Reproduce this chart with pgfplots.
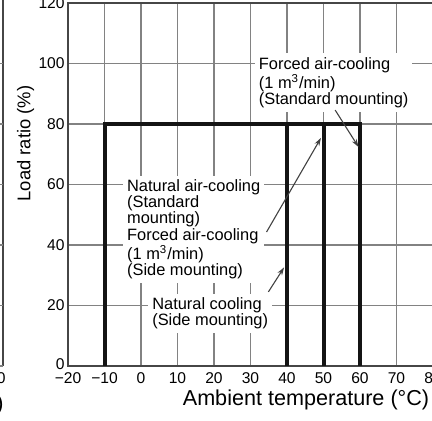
\documentclass[border=0pt]{standalone}
\usepackage{pgfplots}
\pgfplotsset{compat=1.18}
\usepackage{fontspec}
\setmainfont{Liberation Sans}
\usetikzlibrary{arrows.meta}

\definecolor{gridgray}{RGB}{130,130,130}
\definecolor{framegray}{RGB}{70,70,70}
\definecolor{arrowgray}{RGB}{65,65,65}

\tikzset{
  note/.style={anchor=north west, fill=white, inner sep=2pt, align=left,
               font=\fontsize{8.2}{8.1}\selectfont},
  pointer/.style={arrowgray, line width=0.55pt, -{Stealth[length=4pt, width=2.6pt]}},
}

\begin{document}
\begin{tikzpicture}
  \begin{axis}[
    at={(0,0)}, anchor=south west,
    scale only axis,
    width=182.5pt, height=181.5pt,
    xmin=-20, xmax=80,
    ymin=0, ymax=120,
    xtick={-20,-10,...,80},
    xticklabels={−20,−10,0,10,20,30,40,50,60,70,80},
    ytick={0,20,...,120},
    yticklabels={\raisebox{2pt}{0},20,40,60,80,100,\raisebox{-4pt}{120}},
    major tick length=0pt,
    grid=major,
    grid style={gridgray, line width=0.7pt},
    axis line style={framegray, line width=1pt},
    ticklabel style={font=\fontsize{7.8}{9}\selectfont},
    yticklabel style={inner xsep=0pt, xshift=-1.5pt},
    clip=false,
  ]
    % operating limits
    \addplot[black!92, line width=2pt] coordinates {(-10,0) (-10,80) (60,80) (60,0)};
    \addplot[black!92, line width=2pt] coordinates {(40,0) (40,80)};
    \addplot[black!92, line width=2pt] coordinates {(50,0) (50,80)};

    % annotations
    \node[note] at (axis cs:31.1,103.5)
      {Forced air-cooling\\(1 m\textsuperscript{3}/min)\\(Standard mounting)};
    \node[note] at (axis cs:-5.0,63.1)
      {Natural air-cooling\\(Standard\\mounting)\\Forced air-cooling\\(1 m\textsuperscript{3}/min)\\(Side mounting)};
    \node[note] at (axis cs:1.9,24.1)
      {Natural cooling\\(Side mounting)};

    \draw[pointer] (axis cs:53.2,84.6) -- (axis cs:59.6,72.4);
    \draw[pointer] (axis cs:34.4,44.3) -- (axis cs:49.3,75.4);
    \draw[pointer] (axis cs:34.9,24.5) -- (axis cs:39.2,32.6);
  \end{axis}

  % axis titles
  \node[font=\fontsize{10.8}{12}\selectfont] at (119pt,-17pt) {Ambient temperature (°C)};
  \node[rotate=90, font=\fontsize{9.2}{11}\selectfont] at (-21.25pt,111.25pt) {Load ratio (\%)};

  % edge of the neighbouring chart
  \draw[framegray, line width=1pt] (-32.35pt,0pt) -- (-32.35pt,183pt);
  \foreach \yy in {0pt,30.25pt,60.5pt,90.75pt,121pt,151.25pt}
    \draw[gridgray, line width=0.7pt] (-35pt,\yy) -- (-32.35pt,\yy);
  \node[anchor=east, inner sep=0pt, font=\fontsize{7.8}{9}\selectfont] at (-31pt,-6pt) {80};
  \node[anchor=east, inner sep=0pt, font=\fontsize{10.8}{12}\selectfont] at (-32pt,-19.5pt) {(°C)};

  \pgfresetboundingbox
  \path[use as bounding box] (-34pt,-27pt) rectangle (182pt,183pt);
\end{tikzpicture}
\end{document}
